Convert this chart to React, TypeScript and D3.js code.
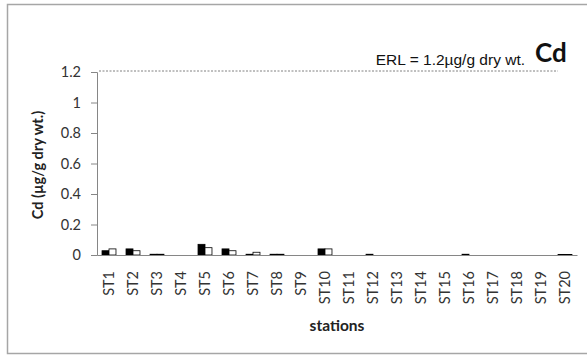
import * as d3 from "d3";
import { useEffect, useRef } from "react";

const stations = [
    "ST1", "ST2", "ST3", "ST4", "ST5", "ST6", "ST7", "ST8", "ST9", "ST10",
    "ST11", "ST12", "ST13", "ST14", "ST15", "ST16", "ST17", "ST18", "ST19", "ST20",
];
const seriesBlack = [0.028, 0.04, 0.005, 0, 0.07, 0.04, 0.005, 0.005, 0, 0.04, 0, 0.005, 0, 0, 0, 0.005, 0, 0, 0, 0.004];
const seriesWhite = [0.04, 0.028, 0.005, 0, 0.048, 0.028, 0.018, 0.005, 0, 0.04, 0, 0, 0, 0, 0, 0, 0, 0, 0, 0.003];
const yTicks = [0, 0.2, 0.4, 0.6, 0.8, 1, 1.2];
const erl = 1.2;

const App = () => {
    const svgRef = useRef<SVGSVGElement | null>(null);

    const dimensions = { width: 587, height: 358 };
    const margin = { top: 72, right: 10, bottom: 103, left: 97 };

    useEffect(() => {
        const svg = d3.select(svgRef.current);
        svg.selectAll("*").remove();

        const plotRight = margin.left + 480;
        const plotBottom = dimensions.height - margin.bottom;
        const font = "Lato, 'Open Sans', sans-serif";

        // frame
        svg.append("rect")
            .attr("x", 7.5)
            .attr("y", 4.5)
            .attr("width", 600)
            .attr("height", 349)
            .attr("fill", "white")
            .attr("stroke", "#a6a6a6")
            .attr("stroke-width", 1.5);

        const xScale = d3
            .scaleBand()
            .domain(stations)
            .range([margin.left, plotRight]);

        const inner = d3
            .scaleBand()
            .domain(["black", "white"])
            .range([0, xScale.bandwidth()])
            .paddingOuter(0.72);

        const yScale = d3
            .scaleLinear()
            .domain([0, 1.2])
            .range([plotBottom, margin.top]);

        // y axis
        const yAxis = d3
            .axisLeft(yScale)
            .tickValues(yTicks)
            .tickFormat((d) => String(d))
            .tickSize(6)
            .tickPadding(10);

        const yg = svg.append("g")
            .attr("transform", `translate(${margin.left}, 0)`)
            .call(yAxis);
        yg.select(".domain").attr("stroke", "#868686");
        yg.selectAll(".tick line").attr("stroke", "#868686");
        yg.selectAll(".tick text")
            .attr("font-family", font)
            .attr("font-size", 14.5)
            .attr("fill", "#333");

        // ERL dashed line
        svg.append("line")
            .attr("x1", margin.left + 2)
            .attr("x2", 558)
            .attr("y1", yScale(erl) - 1)
            .attr("y2", yScale(erl) - 1)
            .attr("stroke", "#808080")
            .attr("stroke-width", 1)
            .attr("stroke-dasharray", "2,1.5");

        // bars
        const groups = svg.append("g")
            .selectAll("g")
            .data(stations)
            .join("g")
            .attr("transform", (d) => `translate(${xScale(d)}, 0)`);

        groups.append("rect")
            .attr("x", inner("black") as number)
            .attr("y", (_, i) => yScale(seriesBlack[i]))
            .attr("width", inner.bandwidth())
            .attr("height", (_, i) => plotBottom - yScale(seriesBlack[i]))
            .attr("fill", "black")
            .attr("stroke", "black")
            .attr("stroke-width", (_, i) => (seriesBlack[i] > 0 ? 0.8 : 0));

        groups.append("rect")
            .attr("x", inner("white") as number)
            .attr("y", (_, i) => yScale(seriesWhite[i]))
            .attr("width", inner.bandwidth())
            .attr("height", (_, i) => plotBottom - yScale(seriesWhite[i]))
            .attr("fill", "white")
            .attr("stroke", "black")
            .attr("stroke-width", (_, i) => (seriesWhite[i] > 0 ? 0.8 : 0));

        // x axis
        const xAxis = d3.axisBottom(xScale).tickSize(0).tickPadding(0);
        const xg = svg.append("g")
            .attr("transform", `translate(0, ${plotBottom})`)
            .call(xAxis);
        xg.select(".domain").attr("stroke", "#868686");
        xg.selectAll(".tick text")
            .attr("font-family", font)
            .attr("font-size", 14.5)
            .attr("fill", "#333")
            .attr("transform", "rotate(-90)")
            .attr("text-anchor", "end")
            .attr("dy", "0.35em")
            .attr("x", -16)
            .attr("y", 0);

        // titles
        svg.append("text")
            .attr("x", (margin.left + plotRight) / 2)
            .attr("y", 331)
            .attr("text-anchor", "middle")
            .attr("font-family", font)
            .attr("font-weight", "bold")
            .attr("font-size", 15.5)
            .attr("fill", "#222")
            .text("stations");

        svg.append("text")
            .attr("transform", "translate(43, 165) rotate(-90)")
            .attr("text-anchor", "middle")
            .attr("font-family", font)
            .attr("font-weight", "bold")
            .attr("font-size", 14.5)
            .attr("fill", "#222")
            .text("Cd (µg/g dry wt.)");

        svg.append("text")
            .attr("x", 525)
            .attr("y", 65)
            .attr("text-anchor", "end")
            .attr("font-family", "'Liberation Sans', Arial, sans-serif")
            .attr("font-size", 15.5)
            .attr("fill", "#111")
            .text("ERL = 1.2µg/g dry wt.");

        svg.append("text")
            .attr("x", 535)
            .attr("y", 62)
            .attr("font-family", font)
            .attr("font-weight", "bold")
            .attr("font-size", 26)
            .attr("fill", "#111")
            .text("Cd");
    }, []);

    return (
        <svg
            ref={svgRef}
            width={dimensions.width}
            height={dimensions.height}
            style={{ position: "absolute", left: 0, top: 0 }}
        />
    );
};

export default App;
